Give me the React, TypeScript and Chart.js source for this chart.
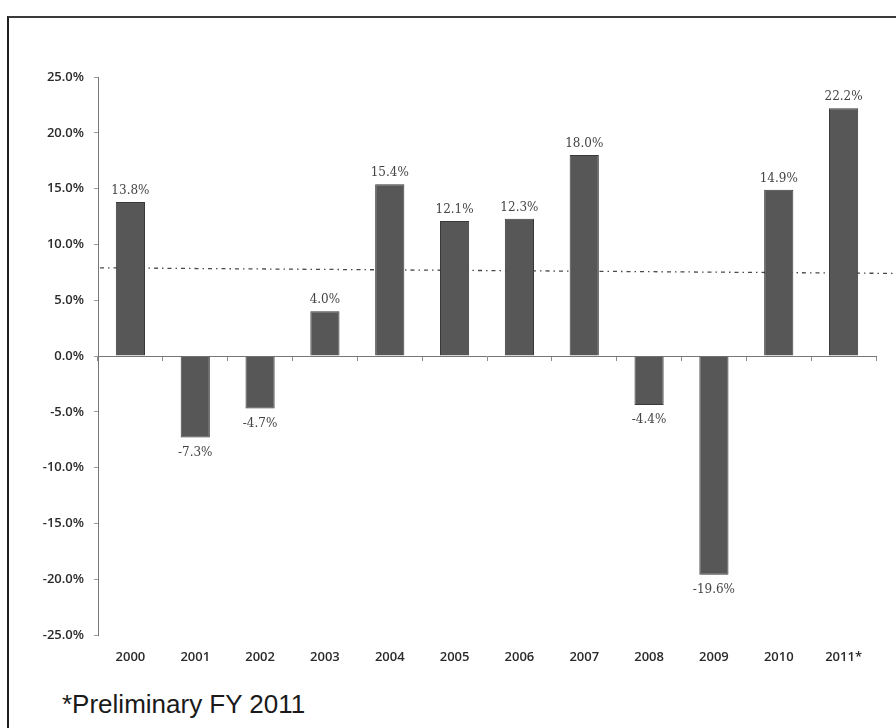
import React, { useEffect, useRef } from "react";
import { Chart, registerables } from "chart.js";

Chart.register(...registerables);

const CATEGORIES = ["2000", "2001", "2002", "2003", "2004", "2005", "2006", "2007", "2008", "2009", "2010", "2011*"];
const GROWTH = [13.8, -7.3, -4.7, 4.0, 15.4, 12.1, 12.3, 18.0, -4.4, -19.6, 14.9, 22.2];
const Y_MIN = -25;
const Y_MAX = 25;
const Y_STEP = 5;
const AVERAGE_START = 7.9;
const AVERAGE_END = 7.4;
const FOOTNOTE = "*Preliminary FY 2011";

const averageLinePlugin = {
  id: "averageLine",
  beforeDatasetsDraw(chart: any) {
    const { ctx, chartArea, scales } = chart;
    const y = scales.y;
    const x0 = chartArea.left + 2;
    const x1 = chart.width;
    const y0 = y.getPixelForValue(AVERAGE_START);
    const y1 = y.getPixelForValue(AVERAGE_END);
    ctx.save();
    ctx.strokeStyle = "#4a4a4a";
    ctx.lineWidth = 1.3;
    ctx.setLineDash([4, 4, 1.5, 4]);
    ctx.beginPath();
    ctx.moveTo(x0, y0);
    ctx.lineTo(x1, y1);
    ctx.stroke();
    ctx.restore();
  },
};

const dataLabelPlugin = {
  id: "dataLabels",
  afterDatasetsDraw(chart: any) {
    const { ctx } = chart;
    const meta = chart.getDatasetMeta(0);
    ctx.save();
    ctx.font = "12px 'DejaVu Serif', serif";
    ctx.fillStyle = "#444";
    ctx.textAlign = "center";
    meta.data.forEach((bar: any, i: number) => {
      const v = GROWTH[i];
      const text = v.toFixed(1) + "%";
      if (v >= 0) {
        ctx.textBaseline = "bottom";
        ctx.fillText(text, bar.x, bar.y - 5);
      } else {
        ctx.textBaseline = "top";
        ctx.fillText(text, bar.x, bar.y + 9);
      }
    });
    ctx.restore();
  },
};

export default function App() {
  const ref = useRef<HTMLCanvasElement>(null);

  useEffect(() => {
    if (!ref.current) return;
    const tickFont = { family: "'Open Sans', sans-serif", size: 13, weight: 600 as any };
    const chart = new Chart(ref.current, {
      type: "bar",
      data: {
        labels: CATEGORIES,
        datasets: [
          {
            data: GROWTH,
            backgroundColor: "#575757",
            borderColor: "#3a3a3a",
            borderWidth: 1,
            categoryPercentage: 1,
            barPercentage: 0.45,
            xAxisID: "x",
          },
        ],
      },
      options: {
        responsive: false,
        animation: false,
        devicePixelRatio: 1,
        layout: { padding: { left: 0, right: 20, top: 77, bottom: 0 } },
        plugins: {
          legend: { display: false },
          tooltip: { enabled: false },
          title: { display: false },
        },
        scales: {
          x: {
            type: "category",
            position: "bottom",
            grid: { display: false, drawTicks: false },
            border: { display: false },
            ticks: { font: tickFont, color: "#2a2a2a", padding: 14, maxRotation: 0, autoSkip: false },
            afterFit(scale: any) {
              scale.height = 45;
            },
          },
          x2: {
            type: "category",
            axis: "x",
            position: { y: 0 } as any,
            offset: true,
            grid: { drawOnChartArea: false, drawTicks: true, tickLength: 4, color: "#8a8a8a", offset: true },
            border: { display: true, color: "#777", dash: [2, 1], width: 1 },
            ticks: { display: false },
          },
          y: {
            min: Y_MIN,
            max: Y_MAX,
            ticks: {
              stepSize: Y_STEP,
              font: tickFont,
              color: "#2a2a2a",
              padding: 10,
              callback: (v: any) => Number(v).toFixed(1) + "%",
            },
            grid: { drawOnChartArea: false, drawTicks: true, tickLength: 4, color: "#9a9a9a" },
            border: { display: true, color: "#777", dash: [2, 1], width: 1 },
            afterFit(scale: any) {
              scale.width = 98;
            },
          },
        },
      },
      plugins: [averageLinePlugin, dataLabelPlugin],
    });
    return () => chart.destroy();
  }, []);

  return (
    <div
      style={{
        position: "fixed",
        left: 0,
        top: 0,
        width: 896,
        height: 728,
        overflow: "hidden",
        background: "#fff",
      }}
    >
      <div
        style={{
          position: "absolute",
          left: 7,
          top: 16,
          width: 920,
          height: 740,
          borderLeft: "2px solid #1e1e1e",
          borderTop: "2px solid #3a3a3a",
        }}
      />
      <canvas
        ref={ref}
        width={896}
        height={680}
        style={{ position: "absolute", left: 0, top: 0, width: 896, height: 680 }}
      />
      <div
        style={{
          position: "absolute",
          left: 62,
          top: 689,
          fontFamily: "'Liberation Sans', Arial, sans-serif",
          fontSize: 26,
          lineHeight: "30px",
          color: "#1a1a1a",
          whiteSpace: "nowrap",
        }}
      >
        {FOOTNOTE}
      </div>
    </div>
  );
}
